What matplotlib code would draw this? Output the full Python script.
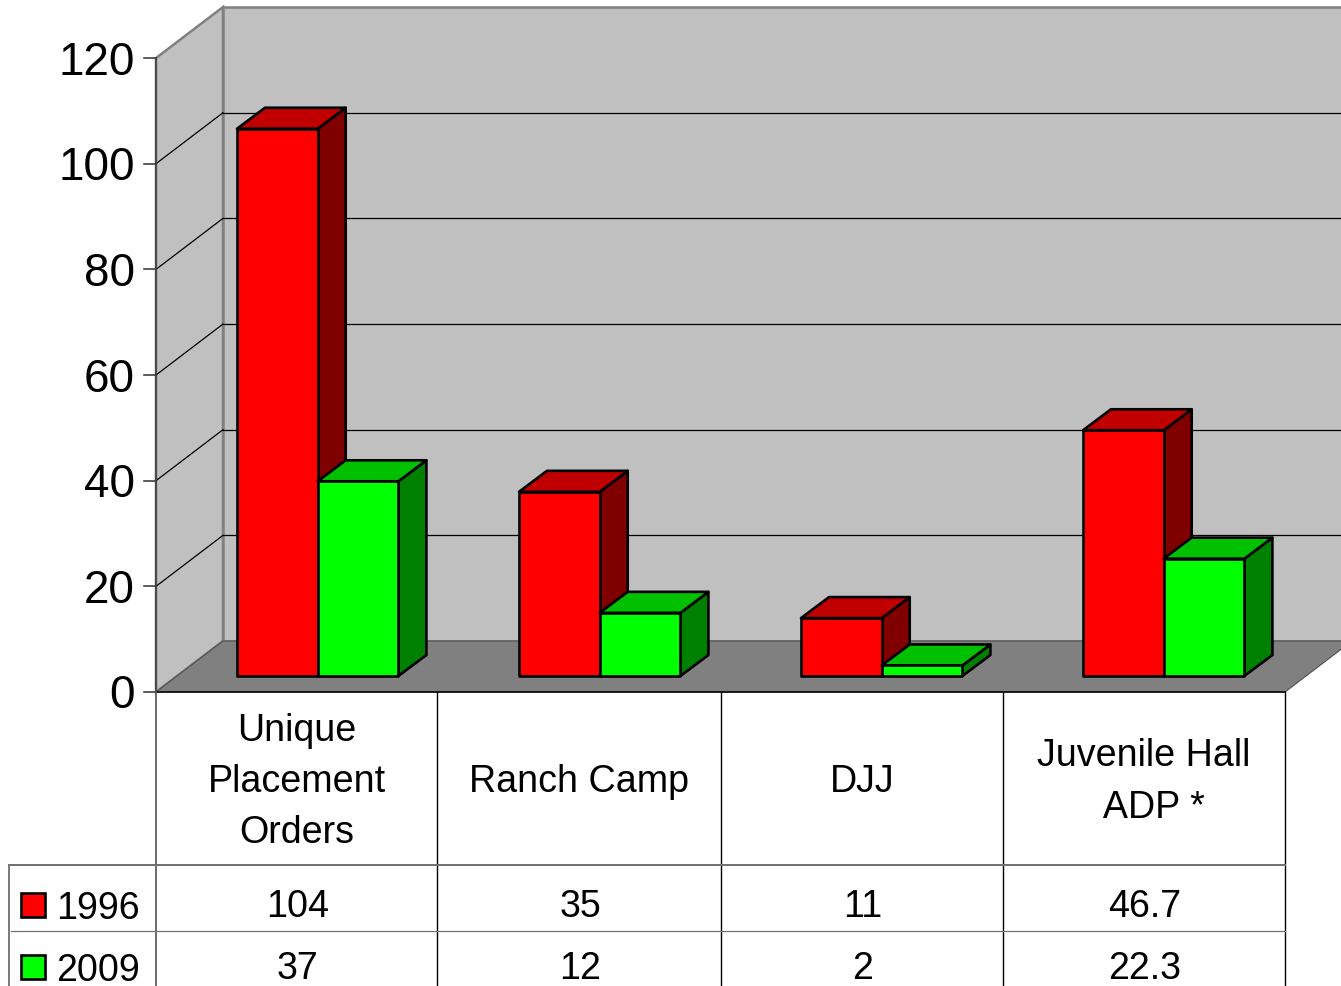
import matplotlib
matplotlib.use('Agg')
import matplotlib.pyplot as plt
from matplotlib.patches import Polygon

plt.rcParams['font.family'] = ['Liberation Sans', 'DejaVu Sans']

categories = ['Unique\nPlacement\nOrders', 'Ranch Camp', 'DJJ', 'Juvenile Hall\n  ADP *']
years = ['1996', '2009']
values_1996 = [104, 35, 11, 46.7]
values_2009 = [37, 12, 2, 22.3]
labels_1996 = ['104', '35', '11', '46.7']
labels_2009 = ['37', '12', '2', '22.3']
y_ticks = [0, 20, 40, 60, 80, 100, 120]

# chart box, in pixels
W, H = 1341, 987
left, base = 156, 692
col_edges = [156, 437, 721, 1003, 1285]
deep_x, deep_y = 67, 51
px_per_unit = 5.283
bar_px_per_unit = 5.262
bar_base = 676
bar_dx, bar_dy = 28, 21
bar_lefts = [237, 519, 801, 1083]
bar_w = 80.7

fig = plt.figure(figsize=(W / 100, H / 100), dpi=100)
ax = fig.add_axes([0, 0, 1, 1])
ax.set_xlim(0, W)
ax.set_ylim(H - 1, -1)
ax.axis('off')


def ypos(v):
    return base - v * px_per_unit


def box(x, w, v, front, top, side):
    y0 = bar_base
    y1 = bar_base - v * bar_px_per_unit
    ec = dict(edgecolor='black', linewidth=1.9, joinstyle='round', zorder=5)
    ax.add_patch(Polygon([(x + w, y0), (x + w + bar_dx, y0 - bar_dy), (x + w + bar_dx, y1 - bar_dy), (x + w, y1)], facecolor=side, **ec))
    ax.add_patch(Polygon([(x, y1), (x + bar_dx, y1 - bar_dy), (x + w + bar_dx, y1 - bar_dy), (x + w, y1)], facecolor=top, **ec))
    ax.add_patch(Polygon([(x, y0), (x + w, y0), (x + w, y1), (x, y1)], facecolor=front, **ec))


top_y = ypos(120)
right = col_edges[-1] + deep_x
# walls and floor
ax.add_patch(Polygon([(left, base), (left + deep_x, base - deep_y), (left + deep_x, top_y - deep_y), (left, top_y)],
                     facecolor='#c0c0c0', edgecolor='#808080', linewidth=1.8, zorder=1))
ax.add_patch(Polygon([(left + deep_x, base - deep_y), (right, base - deep_y), (right, top_y - deep_y), (left + deep_x, top_y - deep_y)],
                     facecolor='#c0c0c0', edgecolor='#808080', linewidth=1.8, zorder=1))
ax.add_patch(Polygon([(left, base), (left + deep_x, base - deep_y), (right, base - deep_y), (col_edges[-1], base)],
                     facecolor='#808080', edgecolor='#505050', linewidth=0.8, zorder=2))

for t in y_ticks:
    y = ypos(t)
    ax.plot([left - 12, left], [y, y], color='#303030', lw=1.1, zorder=3)
    ax.text(135, y - 1.5, str(t), ha='right', va='center_baseline', fontsize=33, color='black')
    if 0 < t < 120:
        ax.plot([left, left + deep_x], [y, y - deep_y], color='black', lw=0.9, zorder=3)
        ax.plot([left + deep_x, W], [y - deep_y, y - deep_y], color='black', lw=0.9, zorder=3)
ax.plot([left, left], [top_y, base], color='#404040', lw=1.2, zorder=3)

for i in range(len(categories)):
    box(bar_lefts[i], bar_w, values_1996[i], '#ff0000', '#c00000', '#800000')
    box(bar_lefts[i] + bar_w, bar_w, values_2009[i], '#00ff00', '#00c000', '#008000')

# data table
ax.plot([left, col_edges[-1]], [base, base], color='black', lw=1.1, zorder=6)
ax.plot([left, left], [base, H], color='#606060', lw=1.3, zorder=6)
for x in col_edges[1:]:
    ax.plot([x, x], [base, H], color='black', lw=1, zorder=6)
ax.plot([9, 9], [865, H], color='#707070', lw=1.3, zorder=6)
ax.plot([9, col_edges[-1]], [865, 865], color='#707070', lw=1.4, zorder=6)
ax.plot([11, col_edges[-1]], [931, 931], color='#707070', lw=0.9, zorder=6)

for i, cat in enumerate(categories):
    cx = (col_edges[i] + col_edges[i + 1]) / 2
    ax.text(cx, 781, cat, ha='center', va='center', fontsize=27.1, linespacing=1.55, color='black')
    ax.text(cx + 1, 906, labels_1996[i], ha='center', va='center', fontsize=27.1, color='black')
    ax.text(cx + 1, 968, labels_2009[i], ha='center', va='center', fontsize=27.1, color='black')

for year, yc, col in zip(years, [905, 967], ['#ff0000', '#00ff00']):
    ax.add_patch(Polygon([(21, yc - 12), (45, yc - 12), (45, yc + 12), (21, yc + 12)],
                         facecolor=col, edgecolor='black', linewidth=1.9, zorder=6))
    ax.text(56, yc + 3, year, ha='left', va='center', fontsize=27.1, color='black')

fig.savefig('out.png', dpi=100)
